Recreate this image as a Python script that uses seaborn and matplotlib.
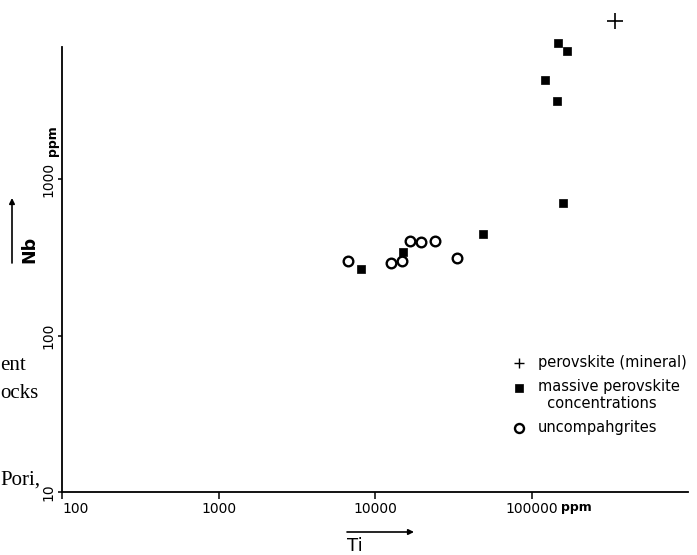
import numpy as np
import pandas as pd
import seaborn as sns
import matplotlib.pyplot as plt
from matplotlib.ticker import NullLocator, FixedLocator
from matplotlib.legend_handler import HandlerPathCollection

# ---- data ----
ti_perovskite = [342000]
nb_perovskite = [10260]

ti_massive = [8090, 15030, 49200, 122700, 146600, 148600, 159300, 169000]
nb_massive = [266, 340, 447, 4300, 3150, 7360, 706, 6580]

ti_uncomp = [6720, 12600, 14960, 16640, 19770, 24150, 33570]
nb_uncomp = [299, 289, 299, 400, 395, 402, 314]

x_ticks = [100, 1000, 10000, 100000]
x_ticklabels = ["100", "1000", "10000", "100000"]
y_ticks = [10, 100, 1000]
y_ticklabels = ["10", "100", "1000"]

labels = ["perovskite (mineral)", "massive perovskite\n  concentrations", "uncompahgrites"]

sns.set_theme(style="ticks")
plt.rcParams["font.family"] = ["DejaVu Sans"]
plt.rcParams["text.color"] = "black"
plt.rcParams["axes.labelcolor"] = "black"

W, H = 697, 555
fig = plt.figure(figsize=(W / 100, H / 100), dpi=100)
ax = fig.add_axes([62 / W, 63 / H, 626 / W, 492 / H])

sns.scatterplot(x=ti_perovskite, y=nb_perovskite, marker="+", s=120, color="black",
                linewidth=1.2, label=labels[0], ax=ax)
sns.scatterplot(x=ti_massive, y=nb_massive, marker="s", s=38, color="black",
                edgecolor="black", linewidth=0.5, label=labels[1], ax=ax)
sns.scatterplot(x=ti_uncomp, y=nb_uncomp, marker="o", s=48, color="white",
                edgecolor="black", linewidth=1.7, label=labels[2], ax=ax)

ax.set_xscale("log")
ax.set_yscale("log")
ax.set_xlim(100, 1e6)
ax.set_ylim(10, 13930)
ax.set_xlabel("")
ax.set_ylabel("")

sns.despine(ax=ax)
ax.spines["left"].set_bounds(10, 7000)
for sp in ("left", "bottom"):
    ax.spines[sp].set_linewidth(1.3)
    ax.spines[sp].set_color("black")

ax.xaxis.set_major_locator(FixedLocator(x_ticks))
ax.yaxis.set_major_locator(FixedLocator(y_ticks))
ax.xaxis.set_minor_locator(NullLocator())
ax.yaxis.set_minor_locator(NullLocator())
ax.set_xticklabels(x_ticklabels)
ax.set_yticklabels(y_ticklabels, rotation=90, va="center")
ax.xaxis.get_ticklabels()[0].set_horizontalalignment("left")
ax.tick_params(axis="x", direction="out", length=5, width=1.1, labelsize=10, pad=2, colors="black")
ax.tick_params(axis="y", direction="out", length=3, width=1.1, labelsize=10, pad=2, colors="black")

# units
fig.text(561 / W, 1 - 508 / H, "ppm", fontsize=9, fontweight="bold", ha="left", va="center")
fig.text(52 / W, 1 - 141 / H, "ppm", fontsize=9, fontweight="bold", ha="center", va="center", rotation=90)

# axis titles with arrows
fig.text(29 / W, 1 - 249 / H, "Nb", fontsize=12.5, fontweight="bold", ha="center", va="center", rotation=90)
fig.text(347 / W, 1 - 546 / H, "Ti", fontsize=13, ha="left", va="center")
ax.annotate("", xy=(12 / W, 1 - 198 / H), xytext=(12 / W, 1 - 263 / H), xycoords="figure fraction",
            textcoords="figure fraction",
            arrowprops=dict(arrowstyle="-|>", color="black", lw=1.2, mutation_scale=8, shrinkA=0, shrinkB=0))
ax.annotate("", xy=(414 / W, 1 - 532 / H), xytext=(347 / W, 1 - 532 / H), xycoords="figure fraction",
            textcoords="figure fraction",
            arrowprops=dict(arrowstyle="-|>", color="black", lw=1.2, mutation_scale=8, shrinkA=0, shrinkB=0))

# surrounding page text (left margin of the scanned page)
for txt, px, py in [("ent", 0, 370), ("ocks", 0, 398), ("Pori,", 0, 485)]:
    fig.text(px / W, 1 - py / H, txt, fontsize=15, family="Liberation Serif", ha="left", va="baseline")

handles, hlabels = ax.get_legend_handles_labels()
leg = ax.legend(handles, hlabels, loc="upper left", bbox_to_anchor=(511.7 / W, 1 - 355 / H),
                bbox_transform=fig.transFigure,
                frameon=False, fontsize=10.5, handlelength=1.0, handletextpad=0.8, labelspacing=0.6,
                borderpad=0, borderaxespad=0, labelcolor="black",
                handler_map={handles[1]: HandlerPathCollection(yoffsets=[1.3])})
lh = leg.legend_handles
lh[0].set_sizes([60])
lh[0].set_linewidth(1.0)
lh[1].set_sizes([30])
lh[2].set_sizes([42])

fig.savefig("out.png", dpi=100)
